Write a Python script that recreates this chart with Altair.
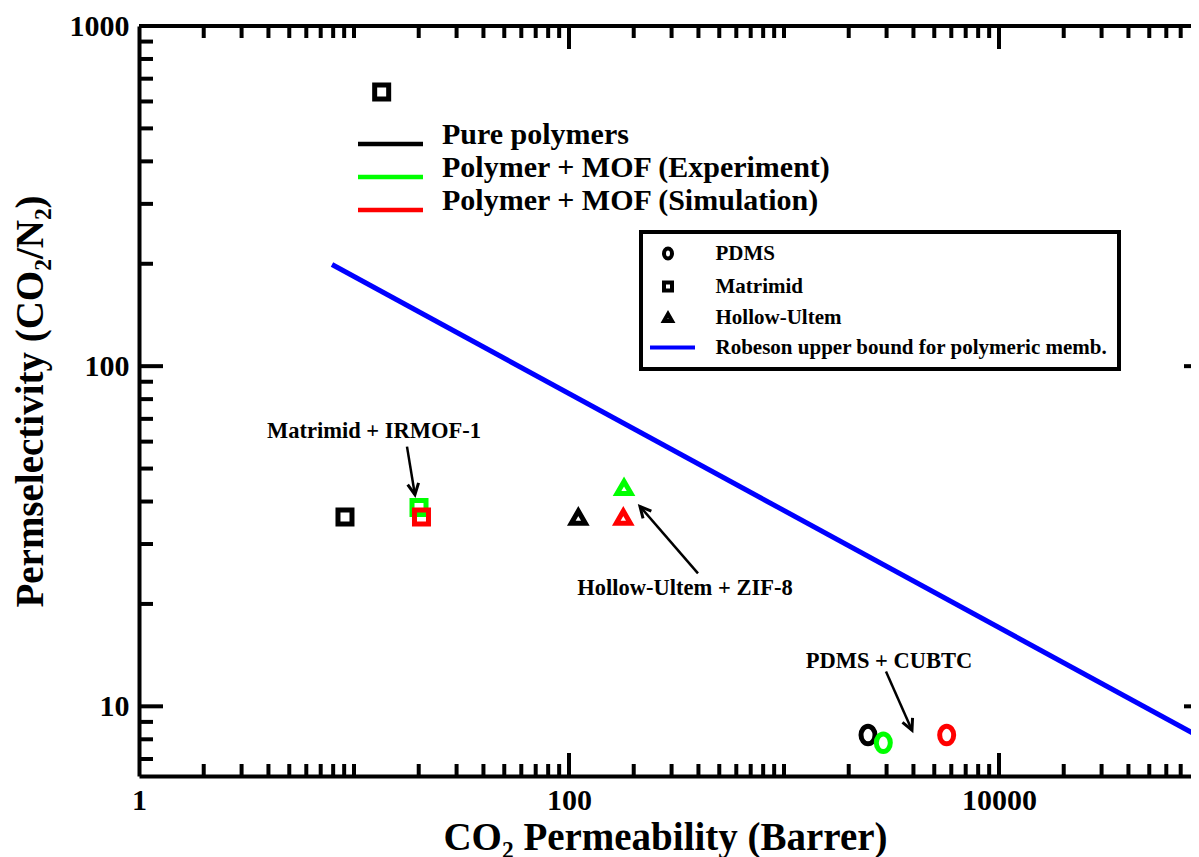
import math
import altair as alt
import pandas as pd

FONT = "Liberation Serif"

# ---------------- data ----------------
group_names = ["Pure polymers", "Polymer + MOF (Experiment)", "Polymer + MOF (Simulation)"]
group_colors = ["#000000", "#00ff00", "#ff0000"]
polymer_names = ["PDMS", "Matrimid", "Hollow-Ultem", "Robeson upper bound for polymeric memb."]

pt_group = ["Pure polymers", "Pure polymers", "Polymer + MOF (Experiment)", "Polymer + MOF (Simulation)",
            "Pure polymers", "Polymer + MOF (Experiment)", "Polymer + MOF (Simulation)",
            "Pure polymers", "Polymer + MOF (Experiment)", "Polymer + MOF (Simulation)"]
pt_polymer = ["Matrimid", "Matrimid", "Matrimid", "Matrimid",
              "Hollow-Ultem", "Hollow-Ultem", "Hollow-Ultem",
              "PDMS", "PDMS", "PDMS"]
pt_perm = [13.45, 9.08, 20.06, 20.6, 110.5, 180.3, 178.9, 2459, 2897, 5710]
pt_sel = [640, 36, 38.4, 36, 36, 44.0, 36, 8.23, 7.81, 8.23]

rob_perm = [7.9, 100000]
rob_sel = [199, 7.72]

ann_text = ["Matrimid + IRMOF-1", "Hollow-Ultem + ZIF-8", "PDMS + CUBTC"]
ann_x = [12.39, 346.4, 3079]
ann_y = [64.5, 22.3, 13.6]

arr_x1 = [17.64, 398, 2981]
arr_y1 = [58.0, 24.6, 12.66]
arr_x2 = [19.2, 213.9, 3938]
arr_y2 = [41.9, 38.7, 8.51]

x_labels = [1, 100, 10000]
y_labels = [10, 100, 1000]
mant = [2, 3, 4, 5, 6, 7, 8, 9]
x_minor = [m * 10 ** e for e in range(0, 5) for m in mant] + [10, 1000]
y_minor = [7, 8, 9] + [m * 10 ** e for e in (1, 2) for m in mant]

# ---------------- layout ----------------
W, H = 1052, 750
XMIN, XMAX = 1, 78170
YMIN, YMAX = 6.24, 1000


def px(x):
    return W * math.log10(x / XMIN) / math.log10(XMAX / XMIN)


def py(y):
    return H * (1 - math.log10(y / YMIN) / math.log10(YMAX / YMIN))


arr_ang = [math.degrees(math.atan2(py(b2) - py(b1), px(a2) - px(a1))) % 360
           for a1, b1, a2, b2 in zip(arr_x1, arr_y1, arr_x2, arr_y2)]

xs = alt.Scale(type="log", domain=[XMIN, XMAX], nice=False)
ys = alt.Scale(type="log", domain=[YMIN, YMAX], nice=False)
xaxis = alt.Axis(values=x_labels, format="d", labelFlush=False, labelPadding=9,
                 titlePadding=3, title="CO\u2082 Permeability (Barrer)")
yaxis = alt.Axis(values=y_labels, format="d", labelPadding=10, titlePadding=19,
                 title="Permselectivity (CO\u2082/N\u2082)")


def X(f):
    return alt.X(f, type="quantitative", scale=xs, axis=xaxis)


def Y(f):
    return alt.Y(f, type="quantitative", scale=ys, axis=yaxis)


pts = pd.DataFrame({"group": pt_group, "polymer": pt_polymer, "perm": pt_perm, "sel": pt_sel})
rob = pd.DataFrame({"perm": rob_perm, "sel": rob_sel})
ann = pd.DataFrame({"t": ann_text, "x": ann_x, "y": ann_y})
arr = pd.DataFrame({"x1": arr_x1, "y1": arr_y1, "x2": arr_x2, "y2": arr_y2, "ang": arr_ang})

ELLIPSE = "M1,0A1,1.25 0 1,1 -1,0A1,1.25 0 1,1 1,0Z"
ROB_SYM = "M-4.5,0H6.75"

line = alt.Chart(rob).mark_line(color="#0000ff", strokeWidth=5, clip=True).encode(
    x=X("perm"), y=Y("sel"))

points = alt.Chart(pts).mark_point(filled=False, strokeWidth=5, size=196, opacity=1).encode(
    x=X("perm"), y=Y("sel"),
    color=alt.Color("group:N", scale=alt.Scale(domain=group_names, range=group_colors),
                    legend=alt.Legend(
                        title=None, orient="none", legendX=219, legendY=94, padding=0,
                        symbolType="M-2.5,1.5H8.333", symbolSize=144, symbolStrokeWidth=4.5,
                        labelFont=FONT, labelFontWeight="bold", labelFontSize=30, labelColor="black",
                        labelOffset=54, rowPadding=-4, labelLimit=1000,
                        labelExpr="datum.label == 'Polymer + MOF (Simulation)' ? '\u00a0' + datum.label : datum.label")),
    shape=alt.Shape("polymer:N", scale=alt.Scale(domain=polymer_names,
                                                 range=[ELLIPSE, "square", "triangle-up", ROB_SYM]),
                    legend=alt.Legend(
                        title=None, orient="none", legendX=502, legendY=206, padding=11,
                        strokeColor="black", fillColor="white",
                        symbolSize=64, symbolStrokeWidth=4, symbolOffset=5.5,
                        symbolStrokeColor=alt.ExprRef(
                            "datum.value == 'Robeson upper bound for polymeric memb.' ? '#0000ff' : 'black'"),
                        labelFont=FONT, labelFontWeight="bold", labelFontSize=21, labelColor="black",
                        labelOffset=37, rowPadding=7, labelLimit=1000)),
)

arrows = alt.Chart(arr).mark_rule(strokeWidth=2.5, color="black").encode(
    x=X("x1"), y=Y("y1"), x2="x2", y2="y2")
heads = alt.Chart(arr).mark_point(shape="M-1,-0.5L0,0L-1,0.5", filled=False, strokeWidth=3,
                                  size=484, color="black", opacity=1).encode(
    x=X("x2"), y=Y("y2"), angle=alt.Angle("ang:Q", scale=None))

texts = alt.Chart(ann).mark_text(font=FONT, fontWeight="bold", fontSize=22.5, color="black",
                                 align="center", baseline="middle").encode(
    x=X("x"), y=Y("y"), text="t")

xmaj = pd.DataFrame({"v": x_labels})
xmin_df = pd.DataFrame({"v": x_minor})
ymaj = pd.DataFrame({"v": y_labels})
ymin_df = pd.DataFrame({"v": y_minor})

TW = 4
tick_layers = [
    alt.Chart(xmaj).mark_rule(strokeWidth=TW, color="black", clip=True).encode(x=X("v"), y=alt.value(H), y2=alt.value(H - 23)),
    alt.Chart(xmin_df).mark_rule(strokeWidth=TW, color="black", clip=True).encode(x=X("v"), y=alt.value(H), y2=alt.value(H - 12)),
    alt.Chart(xmaj).mark_rule(strokeWidth=TW, color="black", clip=True).encode(x=X("v"), y=alt.value(0), y2=alt.value(23)),
    alt.Chart(xmin_df).mark_rule(strokeWidth=TW, color="black", clip=True).encode(x=X("v"), y=alt.value(0), y2=alt.value(12)),
    alt.Chart(ymaj).mark_rule(strokeWidth=TW, color="black").encode(y=Y("v"), x=alt.value(0), x2=alt.value(24)),
    alt.Chart(ymin_df).mark_rule(strokeWidth=TW, color="black").encode(y=Y("v"), x=alt.value(0), x2=alt.value(14)),
    alt.Chart(ymaj).mark_rule(strokeWidth=TW, color="black").encode(y=Y("v"), x=alt.value(W - 7), x2=alt.value(W)),
]

top_frame = alt.Chart(xmaj).mark_rule(strokeWidth=4, color="black").encode(
    x=alt.value(0), x2=alt.value(W), y=alt.value(0))

chart = alt.layer(line, *tick_layers, top_frame, arrows, heads, texts, points).properties(
    width=W, height=H,
    padding={"left": 131, "top": 18, "right": 0, "bottom": 81},
    autosize=alt.AutoSizeParams(type="none"),
    background="white",
).configure_view(stroke=None).configure_axis(
    domainColor="black", domainWidth=4, ticks=False, grid=False,
    labelFont=FONT, labelFontWeight="bold", labelFontSize=30, labelColor="black",
    titleFont=FONT, titleFontWeight="bold", titleFontSize=39, titleColor="black",
).configure_legend(strokeWidth=4)

chart.save("out.html", embed_options={"renderer": "svg", "actions": False})
